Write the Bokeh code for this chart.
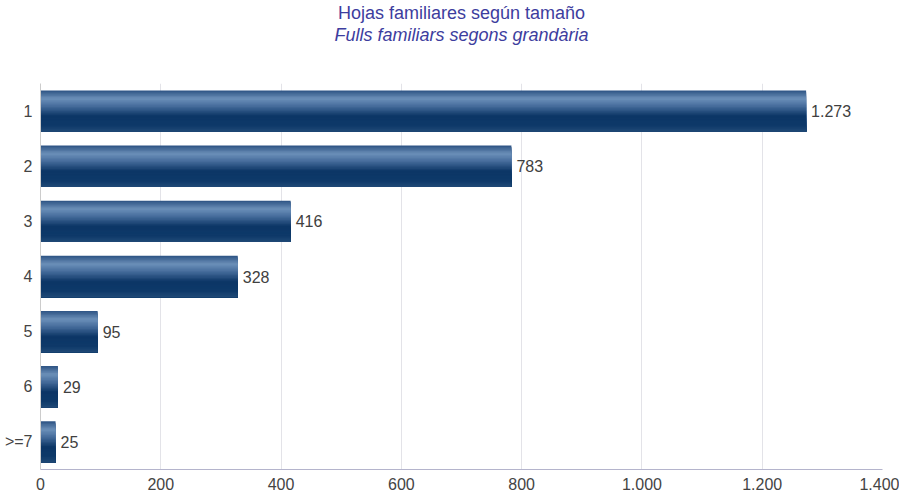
from bokeh.plotting import figure
from bokeh.models import ColumnDataSource, FactorRange, Title, Range1d
from bokeh.transform import dodge
from bokeh.core.properties import value
from bokeh.embed import file_html
from bokeh.resources import INLINE

categories = ["1", "2", "3", "4", "5", "6", ">=7"]
counts = [1273, 783, 416, 328, 95, 29, 25]
count_labels = ["1.273", "783", "416", "328", "95", "29", "25"]
x_ticks = [0, 200, 400, 600, 800, 1000, 1200, 1400]
x_tick_labels = ["0", "200", "400", "600", "800", "1.000", "1.200", "1.400"]
title_es = "Hojas familiares según tamaño"
title_ca = "Fulls familiars segons grandària"

FONT = "Liberation Sans"

p = figure(width=899, height=492, output_backend="svg", toolbar_location=None,
           title=None,
           y_range=FactorRange(factors=list(reversed(categories))),
           x_range=Range1d(0, 1400), tools="")
p.min_border_left = 40
p.min_border_right = 17
p.min_border_bottom = 0
p.min_border_top = 80
p.outline_line_color = None
p.background_fill_color = "white"

# spacer between the two title lines and the plot frame
spacer = Title(text=" ", text_font_size="1px", standoff=36)
t2 = Title(text=title_ca, align="center", text_font=FONT, text_font_size="18px",
           text_font_style="italic", text_color="#3d3d9e", standoff=0)
t1 = Title(text=title_es, align="center", text_font=FONT, text_font_size="18px",
           text_font_style="normal", text_color="#3d3d9e", standoff=0)
p.add_layout(spacer, "above")
p.add_layout(t2, "above")
p.add_layout(t1, "above")

src = ColumnDataSource(dict(cat=categories, val=counts, lab=count_labels))

# gradient emulation: overlapping strips, each reaching down to the bar bottom
stops = [(0.0, (0x2c, 0x52, 0x82)), (0.2, (0x6c, 0x90, 0xb9)), (0.38, (0x46, 0x6c, 0x9b)),
         (0.62, (0x0c, 0x36, 0x66)), (0.85, (0x0e, 0x39, 0x69)), (1.0, (0x20, 0x49, 0x76))]

def col_at(t):
    for (t0, c0), (t1_, c1) in zip(stops[:-1], stops[1:]):
        if t0 <= t <= t1_:
            f = (t - t0) / (t1_ - t0)
            c = [round(a + (b - a) * f) for a, b in zip(c0, c1)]
            return "#%02x%02x%02x" % tuple(c)
    return "#%02x%02x%02x" % stops[-1][1]

BAR_H = 0.75
N = 30
h = BAR_H / N
for i in range(N):
    top = BAR_H / 2 - i * h
    bottom = -BAR_H / 2
    p.hbar(y=dodge("cat", (top + bottom) / 2, range=p.y_range), right="val", left=0,
           height=top - bottom, source=src, fill_color=col_at((i + 0.5) / N), line_color=None)

p.text(x="val", y="cat", text="lab", source=src, x_offset=5, text_baseline="middle",
       text_align="left", text_font=value(FONT), text_font_size="16px", text_color="#404040")

p.xgrid.grid_line_color = "#e3e3e8"
p.xgrid.ticker = x_ticks
p.ygrid.grid_line_color = None

p.xaxis.ticker = x_ticks
p.xaxis.major_label_overrides = {t: l for t, l in zip(x_ticks, x_tick_labels)}
p.xaxis.axis_line_color = "#b4b4cc"
p.xaxis.major_tick_line_color = None
p.xaxis.minor_tick_line_color = None
p.xaxis.major_tick_out = 0
p.xaxis.major_tick_in = 0
p.xaxis.major_label_standoff = 8
p.xaxis.major_label_text_font = FONT
p.xaxis.major_label_text_font_size = "16px"
p.xaxis.major_label_text_color = "#444444"

p.yaxis.axis_line_color = "#cccccc"
p.yaxis.major_tick_line_color = None
p.yaxis.minor_tick_line_color = None
p.yaxis.major_tick_out = 0
p.yaxis.major_tick_in = 0
p.yaxis.major_label_standoff = 8
p.yaxis.major_label_text_font = FONT
p.yaxis.major_label_text_font_size = "16px"
p.yaxis.major_label_text_color = "#444444"

open("out.html", "w").write(file_html(p, INLINE))
